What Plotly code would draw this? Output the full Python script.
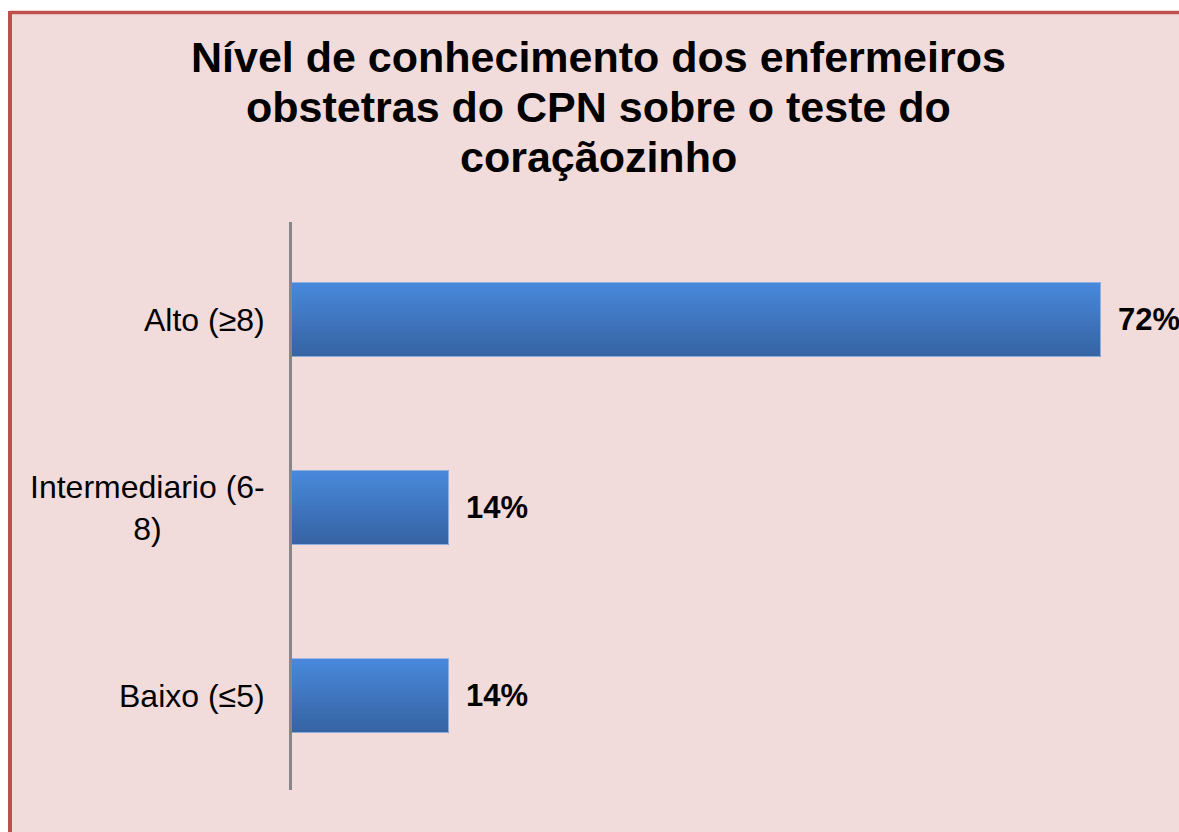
import plotly.graph_objects as go

# ---- data ----
categories = ["Baixo (≤5)", "Intermediario (6-<br>8)", "Alto (≥8)"]
values = [14, 14, 72]
title_lines = ["Nível de conhecimento dos enfermeiros",
               "obstetras do CPN sobre o teste do",
               "coraçãozinho"]

W, H = 1179, 832
L, R, T, B = 292, 0, 222, 42
pw, ph = W - L - R, H - T - B

def px_x(p):
    return (p - L) / pw

def px_y(p):
    return (H - B - p) / ph

fig = go.Figure()

# gradient bars (stripes along bar thickness)
bar_w = 0.394
n = 24
top = (0x48, 0x88, 0xDA)
bot = (0x36, 0x63, 0xA3)
for i in range(n):
    t = i / (n - 1)
    c = tuple(round(bot[k] + (top[k] - bot[k]) * t) for k in range(3))
    fig.add_trace(go.Bar(
        x=values, y=categories, orientation="h",
        width=bar_w / n + 0.002, offset=-bar_w / 2 + i * bar_w / n,
        marker=dict(color="rgb(%d,%d,%d)" % c, line=dict(width=0)),
        showlegend=False, hoverinfo="skip" if i else "x+y",
    ))
# outline
fig.add_trace(go.Bar(
    x=values, y=categories, orientation="h",
    width=bar_w, offset=-bar_w / 2,
    marker=dict(color="rgba(0,0,0,0)", line=dict(color="rgba(150,180,225,0.9)", width=1)),
    showlegend=False, hoverinfo="skip",
))

font_family = "Liberation Sans, Arial, sans-serif"
annotations = []
# data labels
for c, v in zip(categories, values):
    annotations.append(dict(
        x=v, y=c, xref="x", yref="y", xanchor="left", yanchor="middle",
        xshift=15, text="<b>%d%%</b>" % v, showarrow=False,
        font=dict(family=font_family, size=31, color="black"),
    ))
# category labels
for c in categories:
    annotations.append(dict(
        x=0, y=c, xref="paper", yref="y", xanchor="right", yanchor="middle",
        xshift=-25, text=c, showarrow=False, align="center",
        font=dict(family=font_family, size=32, color="black"),
    ))
# title lines
for line, yp in zip(title_lines, [57, 107, 157]):
    annotations.append(dict(
        x=px_x(598), y=px_y(yp), xref="paper", yref="paper",
        xanchor="center", yanchor="middle", showarrow=False,
        text="<b>%s</b>" % line,
        font=dict(family=font_family, size=43, color="black"),
    ))

border = "#C0504D"
shapes = [
    dict(type="rect", xref="paper", yref="paper", layer="below",
         x0=px_x(10), x1=px_x(1400), y0=px_y(1000), y1=px_y(12.5),
         fillcolor="#F2DCDB", line=dict(width=0)),
    dict(type="line", xref="paper", yref="paper", layer="below",
         x0=px_x(10), x1=px_x(1400), y0=px_y(12.5), y1=px_y(12.5),
         line=dict(color=border, width=3.5)),
    dict(type="line", xref="paper", yref="paper", layer="below",
         x0=px_x(10), x1=px_x(10), y0=px_y(11), y1=px_y(1000),
         line=dict(color=border, width=4)),
]

fig.update_layout(
    width=W, height=H,
    margin=dict(l=L, r=R, t=T, b=B),
    paper_bgcolor="white",
    plot_bgcolor="rgba(0,0,0,0)",
    barmode="overlay",
    bargap=0,
    showlegend=False,
    annotations=annotations,
    shapes=shapes,
    xaxis=dict(range=[0, pw / ((1101 - 292) / 72)], visible=False, fixedrange=True),
    yaxis=dict(type="category", categoryarray=categories, range=[-0.5, 2.52],
               showticklabels=False, showgrid=False, zeroline=False, ticks="",
               showline=True, linecolor="#878787", linewidth=3, fixedrange=True),
)

fig.write_html(
    "out.html",
    config={"displayModeBar": False},
    post_script="document.body.style.margin='0px';document.body.style.overflow='hidden';",
)
